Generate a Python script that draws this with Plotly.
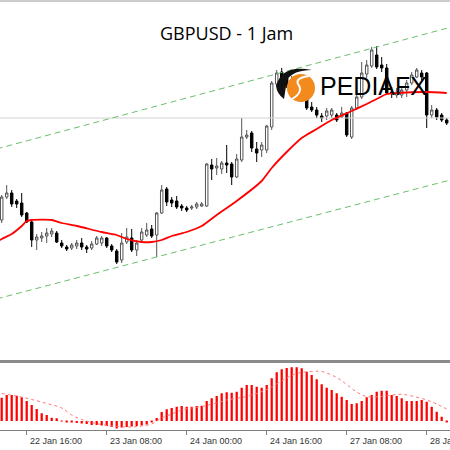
import plotly.graph_objects as go

# ---------------- data ----------------
bars = list(range(90))

opens = [1.3030,1.3053,1.3057,1.3049,1.3047,1.3037,1.3028,1.3010,1.3012,1.3014,
         1.3016,1.3017,1.3007,1.3003,1.3002,1.3004,1.3007,1.3003,1.3002,1.3006,
         1.3007,1.3012,1.3004,1.2999,1.2990,1.3008,1.3012,1.3000,1.3010,1.3015,
         1.3021,1.3015,1.3037,1.3061,1.3050,1.3049,1.3044,1.3042,1.3042,1.3043,
         1.3044,1.3044,1.3085,1.3082,1.3081,1.3087,1.3086,1.3073,1.3090,1.3113,
         1.3117,1.3101,1.3100,1.3100,1.3123,1.3166,1.3178,1.3172,1.3165,1.3168,
         1.3160,1.3153,1.3143,1.3140,1.3134,1.3134,1.3135,1.3135,1.3133,1.3137,
         1.3113,1.3142,1.3153,1.3176,1.3184,1.3195,1.3185,1.3182,1.3158,1.3155,
         1.3155,1.3160,1.3167,1.3173,1.3177,1.3177,1.3135,1.3140,1.3135,1.3130]
highs = [1.3055,1.3065,1.3060,1.3051,1.3057,1.3038,1.3029,1.3016,1.3018,1.3022,
         1.3022,1.3019,1.3010,1.3005,1.3007,1.3010,1.3012,1.3005,1.3009,1.3014,
         1.3014,1.3013,1.3006,1.3001,1.3017,1.3022,1.3021,1.3010,1.3022,1.3027,
         1.3025,1.3038,1.3065,1.3063,1.3053,1.3054,1.3046,1.3044,1.3045,1.3048,
         1.3048,1.3087,1.3091,1.3092,1.3089,1.3105,1.3088,1.3096,1.3132,1.3120,
         1.3119,1.3108,1.3108,1.3125,1.3169,1.3180,1.3182,1.3176,1.3174,1.3171,
         1.3164,1.3155,1.3148,1.3143,1.3137,1.3142,1.3142,1.3137,1.3143,1.3138,
         1.3144,1.3160,1.3188,1.3190,1.3203,1.3204,1.3193,1.3186,1.3163,1.3162,
         1.3163,1.3170,1.3178,1.3182,1.3180,1.3178,1.3145,1.3142,1.3137,1.3132]
lows = [1.3027,1.3051,1.3043,1.3042,1.3033,1.3027,1.3003,1.3000,1.3008,1.3007,
        1.3013,1.3007,1.3002,1.2999,1.3000,1.3001,1.3000,1.2997,1.3000,1.3005,
        1.3004,1.3002,1.2998,1.2986,1.2987,1.3006,1.2998,1.2994,1.3008,1.3013,
        1.3012,1.2993,1.3036,1.3044,1.3043,1.3041,1.3039,1.3038,1.3040,1.3041,
        1.3043,1.3043,1.3070,1.3075,1.3076,1.3077,1.3065,1.3072,1.3088,1.3111,
        1.3098,1.3088,1.3093,1.3097,1.3120,1.3164,1.3160,1.3162,1.3160,1.3155,
        1.3148,1.3140,1.3138,1.3132,1.3128,1.3130,1.3132,1.3128,1.3132,1.3113,
        1.3111,1.3140,1.3151,1.3172,1.3182,1.3181,1.3178,1.3155,1.3152,1.3152,
        1.3152,1.3153,1.3165,1.3172,1.3170,1.3122,1.3132,1.3130,1.3128,1.3125]
closes = [1.3053,1.3057,1.3046,1.3046,1.3035,1.3028,1.3010,1.3013,1.3014,1.3017,
          1.3019,1.3008,1.3004,1.3001,1.3005,1.3007,1.3003,1.3001,1.3006,1.3012,
          1.3012,1.3004,1.3000,1.2988,1.3007,1.3013,1.3000,1.3007,1.3018,1.3020,
          1.3014,1.3037,1.3060,1.3048,1.3047,1.3043,1.3042,1.3040,1.3043,1.3046,
          1.3046,1.3086,1.3081,1.3084,1.3087,1.3085,1.3073,1.3091,1.3113,1.3115,
          1.3102,1.3097,1.3105,1.3124,1.3167,1.3177,1.3172,1.3165,1.3170,1.3158,
          1.3152,1.3142,1.3140,1.3135,1.3132,1.3139,1.3140,1.3130,1.3137,1.3115,
          1.3142,1.3153,1.3177,1.3185,1.3200,1.3183,1.3182,1.3157,1.3157,1.3158,
          1.3160,1.3167,1.3175,1.3180,1.3173,1.3135,1.3140,1.3133,1.3130,1.3127]

ma_idx = [-1,0,2,4,5,6,10,12,15,20,23,25,28,30,32,34,37,40,43,47,52,54,57,60,63,66,70,73,75,77,79,85,89]
ma_val = [1.3008,1.3011,1.3016,1.3024,1.3029,1.3030,1.3030,1.3027,1.3024,1.3018,1.3015,1.3011,
          1.3008,1.3008,1.3010,1.3014,1.3018,1.3024,1.3035,1.3049,1.3069,1.3082,1.3098,
          1.3112,1.3121,1.3130,1.3139,1.3146,1.3151,1.3156,1.3157,1.3158,1.3157]

chan_idx = [-1, 91]
chan_upper = [1.31011, 1.32244]
chan_lower = [1.29511, 1.30717]

bid_price = 1.3132

macd_points = [23.3,26,26,25.3,23.7,20,16,12,7.7,6,
               3.3,2.7,-0.5,-1,-1.5,-2,-2.5,-3,-4,-4,
               -4.5,-5,-6,-7.5,-6.5,-6,-5.5,-5,-4.5,-3.5,
               -1.5,3,9,11.7,13,14.3,15,14.3,14.3,15,
               15.3,20,22.7,25,27.7,28.7,28.3,29.3,33.3,36,
               36,34.3,33.3,36,42.7,48.7,51.7,53,53.7,53.7,
               52.7,49.3,46,41.7,36.7,33.3,31,27.7,24.3,21,
               17,17.7,20,23.7,26,29.3,30.3,30.3,26,25,
               22.7,20,20,20,21,19.3,14.3,9.3,4.3,-1]

sig_idx = [0,3,6,9,12,14,16,18,20,23,26,28,30,32,34,36,38,40,43,45,49,53,57,59,62,64,67,69,71,73,76,78,80,82,85,87,89]
sig_val = [27.5,25,21.5,17.5,13,6,1.5,-1.5,-3.5,-5.5,-6,-5,-3,3,7,11,13,14.5,18,21,24.5,31.5,
           43,47.5,49.5,49.5,43.5,36.5,29,24.5,24.5,26,26.7,25,21,17,12]

tick_idx = [5, 21, 37, 53, 69, 85]
tick_text = ["22 Jan 16:00", "23 Jan 08:00", "24 Jan 00:00", "24 Jan 16:00", "27 Jan 08:00", "28 Jan 00:00"]

title_text = "GBPUSD - 1 Jam"
logo_text = "PEDIAFX"

# ---------------- figure ----------------
W = H = 450
def px(x):
    return x / W
def py(y):
    return 1 - y / H

xr = [-0.34, 89.66]

fig = go.Figure()

fig.add_trace(go.Scatter(x=chan_idx, y=[bid_price, bid_price], mode='lines',
                         line=dict(color='#d2d2d2', width=1), hoverinfo='skip'))
fig.add_trace(go.Scatter(x=chan_idx, y=chan_upper, mode='lines',
                         line=dict(color='#6cbf6c', width=1, dash='6px,4px'), hoverinfo='skip'))
fig.add_trace(go.Scatter(x=chan_idx, y=chan_lower, mode='lines',
                         line=dict(color='#6cbf6c', width=1, dash='6px,4px'), hoverinfo='skip'))

fig.add_trace(go.Candlestick(
    x=bars, open=opens, high=highs, low=lows, close=closes,
    increasing=dict(line=dict(color='#555555', width=1), fillcolor='#ffffff'),
    decreasing=dict(line=dict(color='#000000', width=1), fillcolor='#000000'),
    whiskerwidth=0, hoverinfo='skip'))

fig.add_trace(go.Scatter(x=ma_idx, y=ma_val, mode='lines',
                         line=dict(color='#ff0000', width=1.8, shape='spline', smoothing=0.6),
                         hoverinfo='skip'))

fig.add_trace(go.Bar(x=bars, y=macd_points, xaxis='x2', yaxis='y2', width=0.45,
                     marker=dict(color='#ff0000', line=dict(width=0)), hoverinfo='skip'))
fig.add_trace(go.Scatter(x=sig_idx, y=sig_val, xaxis='x2', yaxis='y2', mode='lines',
                         line=dict(color='#ff7a7a', width=1, dash='dot', shape='spline'),
                         hoverinfo='skip'))

shapes = [
    dict(type='line', xref='paper', yref='paper', x0=0, x1=1, y0=py(1), y1=py(1),
         line=dict(color='#9a9a9a', width=1)),
    dict(type='line', xref='paper', yref='paper', x0=0, x1=1, y0=py(361.5), y1=py(361.5),
         line=dict(color='#8a8a8a', width=3)),
    # logo
    dict(type='circle', xref='paper', yref='paper', x0=px(287), x1=px(315), y0=py(102), y1=py(74),
         fillcolor='#f28a1e', line=dict(width=0)),
]
def path(pts, close=True):
    s = ''
    for cmd, coords in pts:
        s += cmd + ' ' + ' '.join(f'{px(coords[i]):.5f},{py(coords[i+1]):.5f}' for i in range(0, len(coords), 2)) + ' '
    return s + ('Z' if close else '')
shapes.append(dict(type='path', xref='paper', yref='paper',
                   path=path([('M', [276, 86]), ('Q', [282, 64, 312, 70]), ('Q', [293, 70, 287, 80]),
                              ('L', [284, 99]), ('Q', [277, 94, 276, 86])]),
                   fillcolor='#111111', line=dict(width=0)))
shapes.append(dict(type='path', xref='paper', yref='paper',
                   path=path([('M', [292, 99]), ('Q', [304, 92, 298, 84]), ('Q', [295, 78, 309, 76])], close=False),
                   fillcolor='rgba(0,0,0,0)', line=dict(color='#ffffff', width=2)))

annotations = [
    dict(text=title_text, xref='paper', yref='paper', x=px(226), y=py(33), xanchor='center', yanchor='middle',
         showarrow=False, font=dict(family='Comic Sans MS, Open Sans', size=18, color='#000000')),
    dict(text=logo_text, xref='paper', yref='paper', x=px(318), y=py(86), xanchor='left', yanchor='middle',
         showarrow=False, font=dict(family='Liberation Sans, Arial', size=25, color='#000000')),
]
for t, lab in zip(tick_idx, tick_text):
    annotations.append(dict(text=lab, xref='x2', yref='paper', x=t, y=py(441), xanchor='left',
                            yanchor='middle', xshift=1, showarrow=False,
                            font=dict(family='Liberation Sans, Arial', size=9, color='#333333')))

fig.update_layout(
    width=W, height=H, margin=dict(l=0, r=0, t=0, b=0),
    paper_bgcolor='#ffffff', plot_bgcolor='#ffffff', showlegend=False,
    boxgap=0.3,
    xaxis=dict(domain=[0, 1], range=xr, visible=False, rangeslider=dict(visible=False),
               anchor='y', fixedrange=True),
    yaxis=dict(domain=[py(360), py(2)], range=[1.2890, 1.3248], visible=False, fixedrange=True),
    xaxis2=dict(domain=[0, 1], range=xr, anchor='y2', showgrid=False, zeroline=False,
                showline=True, linecolor='#7f7f7f', linewidth=1,
                ticks='outside', ticklen=4, tickcolor='#7f7f7f', tickwidth=1,
                tickvals=tick_idx, showticklabels=False,
                automargin=False, fixedrange=True),
    yaxis2=dict(domain=[py(430), py(363.5)], range=[-9, 57.5], visible=False, fixedrange=True),
    shapes=shapes, annotations=annotations,
)

fig.write_html("out.html", config={'displayModeBar': False},
               post_script="document.body.style.margin='0';document.body.style.overflow='hidden';")
